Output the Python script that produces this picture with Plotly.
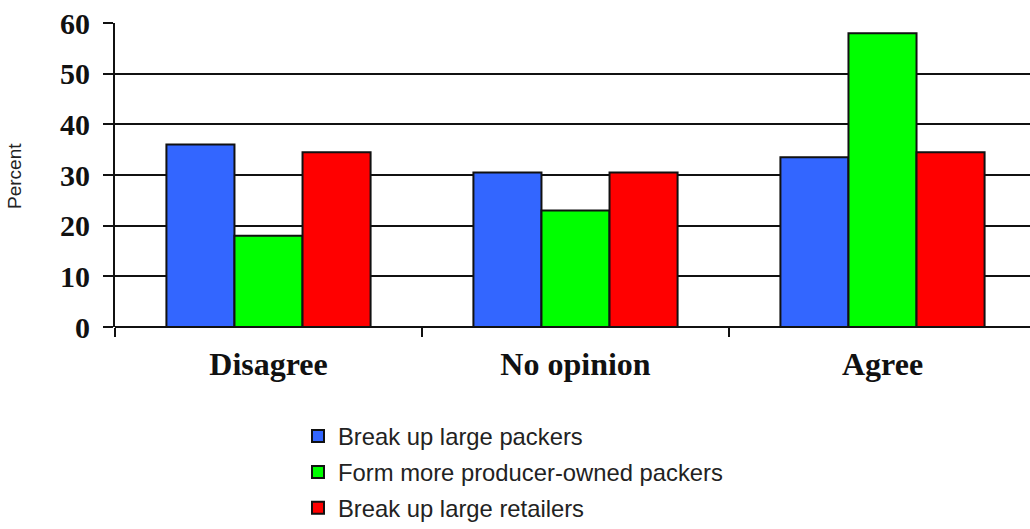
import plotly.graph_objects as go

categories = ["Disagree", "No opinion", "Agree"]
series_names = [
    "Break up large packers",
    "Form more producer-owned packers",
    "Break up large retailers",
]
break_up_packers = [36, 30.5, 33.5]
producer_owned = [18, 23, 58]
break_up_retailers = [34.5, 30.5, 34.5]
y_ticks = [0, 10, 20, 30, 40, 50, 60]

colors = ["#3366FF", "#00FF00", "#FF0000"]
values = [break_up_packers, producer_owned, break_up_retailers]

W, H = 1030, 529
ML, MT, MB, MR = 115, 23, 202, 0
plot_w = W - ML - MR
plot_h = H - MT - MB

fig = go.Figure()
for i, (name, vals, col) in enumerate(zip(series_names, values, colors)):
    fig.add_trace(go.Bar(
        x=categories, y=vals, name=name,
        marker=dict(color=col, line=dict(color="#111111", width=2)),
        legendgroup=f"g{i}",
    ))

tick_font = dict(family="Liberation Serif", size=30, color="#111111", weight="bold")
cat_font = dict(family="Liberation Serif", size=32, color="#111111", weight="bold")

fig.update_layout(
    width=W, height=H,
    margin=dict(l=ML, r=MR, t=MT, b=MB, autoexpand=False),
    paper_bgcolor="white", plot_bgcolor="white",
    barmode="group", bargap=0.335, bargroupgap=0,
    showlegend=True,
    legend=dict(
        x=(298 - ML) / plot_w, y=(327 - 414) / plot_h,
        xanchor="left", yanchor="top",
        xref="paper", yref="paper",
        font=dict(family="Liberation Sans", size=23.8, color="#222222"),
        traceorder="grouped", tracegroupgap=2,
        bgcolor="rgba(0,0,0,0)",
    ),
    xaxis=dict(
        range=[-0.5, -0.5 + plot_w / 307.0],
        showgrid=False, showline=False, zeroline=False,
        ticks="outside", tickson="boundaries", ticklen=9, tickwidth=2,
        tickcolor="#111111",
        tickfont=cat_font, ticklabelstandoff=15,
    ),
    yaxis=dict(
        range=[0, 60], tickvals=y_ticks,
        showgrid=True, gridcolor="#111111", gridwidth=2,
        zeroline=True, zerolinecolor="#111111", zerolinewidth=2,
        showline=True, linecolor="#111111", linewidth=2,
        ticks="outside", ticklen=10, tickwidth=2, tickcolor="#111111",
        tickfont=tick_font, ticklabelstandoff=7,
    ),
    annotations=[dict(
        text="Percent", textangle=-90,
        xref="paper", yref="paper",
        x=(14 - ML) / plot_w, y=(327 - 176) / plot_h,
        xanchor="center", yanchor="middle", showarrow=False,
        font=dict(family="Liberation Sans", size=19, color="#222222"),
    )],
)

fig.write_html("out.html")
